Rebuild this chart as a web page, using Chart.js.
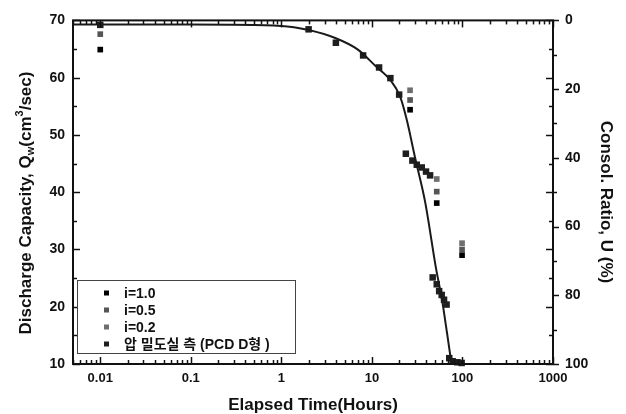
<!DOCTYPE html>
<html>
<head>
<meta charset="utf-8">
<script src="https://cdn.jsdelivr.net/npm/chart.js@4.4.1/dist/chart.umd.min.js"></script>
<style>
html, body { margin: 0; padding: 0; background: #fff; }
#wrap { width: 626px; height: 414px; }
</style>
</head>
<body>
<div id="wrap"><canvas id="chart" width="626" height="414"></canvas></div>
<script>
// tick labels
const xTickValues = [0.01, 0.1, 1, 10, 100, 1000];
const leftTicks = [10, 20, 30, 40, 50, 60, 70];
const rightTicks = [0, 20, 40, 60, 80, 100];

// discharge capacity for each gradient (left axis)
const iTimes = [0.01, 26.4, 52, 99];
const q10 = [64.9, 54.4, 38.1, 29.0];
const q05 = [67.6, 56.1, 40.1, 30.0];
const q02 = [69.2, 57.8, 42.3, 31.1];

// measured consolidation ratio (right axis, %)
const uTimes = [0.01, 2, 4, 8, 12, 16, 20, 23.7, 28, 31.3, 35.5, 39.6, 43.9, 46.9, 52, 55.3, 59, 62.6, 66.8, 71.5, 78, 88, 98];
const uMeasured = [1.3, 2.6, 6.5, 10.2, 13.7, 16.8, 21.6, 38.8, 40.8, 42.0, 42.8, 44.0, 45.1, 74.8, 76.8, 78.8, 79.9, 81.3, 82.7, 98.3, 99.2, 99.5, 99.7];

// fitted consolidation curve
const curveTimes = [0.005, 0.1, 1, 2, 4, 7, 11, 15.9, 20.5, 24.3, 30, 38.7, 51, 59.6, 67.6, 74.8, 76.5];
const curveU = [1.2, 1.2, 1.6, 2.8, 5.2, 8.5, 13.3, 17.3, 22.2, 29.0, 40.0, 52.8, 72.1, 81.5, 91.0, 98.8, 100];

const labels = ['i=1.0', 'i=0.5', 'i=0.2', '압 밀도실 측 (PCD D형 )'];
const colors = ['#000000', '#555555', '#6e6e6e', '#1e1e1e'];

const pts = (xs, ys) => xs.map((x, i) => ({ x: x, y: ys[i] }));

Chart.defaults.font.family = 'Arial, "Liberation Sans", "Noto Sans CJK KR", sans-serif';
Chart.defaults.color = '#111';

// frame, inward ticks, legend box and axis titles
const decor = {
    id: 'decor',
    afterDatasetsDraw(chart) {
        const { ctx, chartArea: a, scales } = chart;
        const x = scales.x, yL = scales.y, yR = scales.yR;
        ctx.save();
        ctx.strokeStyle = '#111';
        ctx.lineWidth = 1.5;
        const line = (x1, y1, x2, y2) => { ctx.beginPath(); ctx.moveTo(x1, y1); ctx.lineTo(x2, y2); ctx.stroke(); };

        const xMinor = [0.001, 0.01, 0.1, 1, 10, 100]
            .flatMap(d => [2, 3, 4, 5, 6, 7, 8, 9].map(m => m * d))
            .filter(v => v >= 0.005 && v <= 1000);
        xMinor.forEach(v => {
            const p = Math.round(x.getPixelForValue(v)) + 0.5;
            line(p, a.bottom, p, a.bottom - 4);
            line(p, a.top, p, a.top + 4);
        });
        xTickValues.forEach(v => {
            const p = Math.round(x.getPixelForValue(v)) + 0.5;
            line(p, a.bottom, p, a.bottom - 7);
            line(p, a.top, p, a.top + 7);
        });
        leftTicks.forEach((v, i) => {
            const p = Math.round(yL.getPixelForValue(v)) + 0.5;
            line(a.left, p, a.left + 7, p);
            line(a.right, p, a.right - 7, p);
            if (i < leftTicks.length - 1) {
                const q = Math.round(yL.getPixelForValue(v + 5)) + 0.5;
                line(a.left, q, a.left + 4, q);
                line(a.right, q, a.right - 4, q);
            }
        });
        rightTicks.forEach((v, i) => {
            const p = Math.round(yR.getPixelForValue(v)) + 0.5;
            line(a.right, p, a.right + 6, p);
            if (i < rightTicks.length - 1) {
                const q = Math.round(yR.getPixelForValue(v + 10)) + 0.5;
                line(a.right, q, a.right + 4, q);
            }
        });

        ctx.lineWidth = 2;
        ctx.strokeRect(a.left, a.top, a.right - a.left, a.bottom - a.top);

        // legend
        ctx.lineWidth = 1;
        ctx.strokeStyle = '#444';
        ctx.fillStyle = '#fff';
        ctx.fillRect(77.5, 280.5, 218, 73);
        ctx.strokeRect(77.5, 280.5, 218, 73);
        ctx.textBaseline = 'middle';
        ctx.textAlign = 'left';
        labels.forEach((t, i) => {
            const cy = 293 + i * 17;
            ctx.fillStyle = colors[i];
            ctx.fillRect(104, cy - 2.5, 5, 5);
            ctx.fillStyle = '#111';
            ctx.font = 'bold 14px Arial, "Liberation Sans", "Noto Sans CJK KR", sans-serif';
            ctx.fillText(t, 124, cy + 1);
        });

        // axis titles
        ctx.fillStyle = '#111';
        const big = 'bold 17px Arial, "Liberation Sans", sans-serif';
        const small = 'bold 11px Arial, "Liberation Sans", sans-serif';
        ctx.font = big;
        ctx.textAlign = 'center';
        ctx.fillText('Elapsed Time(Hours)', 313, 405);

        const parts = [
            ['Discharge Capacity, Q', big, 0], ['w', small, 5], ['(cm', big, 0],
            ['3', small, -6], ['/sec)', big, 0]
        ];
        ctx.textAlign = 'left';
        let w = 0;
        parts.forEach(p => { ctx.font = p[1]; w += ctx.measureText(p[0]).width; });
        ctx.save();
        ctx.translate(26, 203);
        ctx.rotate(-Math.PI / 2);
        let cx = -w / 2;
        parts.forEach(p => {
            ctx.font = p[1];
            ctx.fillText(p[0], cx, p[2]);
            cx += ctx.measureText(p[0]).width;
        });
        ctx.restore();

        ctx.save();
        ctx.translate(606, 202);
        ctx.rotate(Math.PI / 2);
        ctx.font = big;
        ctx.textAlign = 'center';
        ctx.fillText('Consol. Ratio, U (%)', 0, 0);
        ctx.restore();
        ctx.restore();
    }
};

new Chart(document.getElementById('chart').getContext('2d'), {
    data: {
        datasets: [{
            type: 'line',
            label: 'fit',
            data: pts(curveTimes, curveU),
            yAxisID: 'yR',
            borderColor: '#1a1a1a',
            borderWidth: 2,
            pointRadius: 0,
            cubicInterpolationMode: 'monotone',
            order: 0
        }, {
            type: 'scatter',
            label: labels[3],
            data: pts(uTimes, uMeasured),
            yAxisID: 'yR',
            backgroundColor: colors[3],
            pointStyle: 'rect',
            pointRadius: 4.6,
            borderWidth: 0,
            clip: false,
            order: 1
        }, {
            type: 'scatter',
            label: labels[0],
            data: pts(iTimes, q10),
            yAxisID: 'y',
            backgroundColor: colors[0],
            pointStyle: 'rect',
            pointRadius: 4,
            borderWidth: 0,
            clip: false,
            order: 2
        }, {
            type: 'scatter',
            label: labels[1],
            data: pts(iTimes, q05),
            yAxisID: 'y',
            backgroundColor: colors[1],
            pointStyle: 'rect',
            pointRadius: 4,
            borderWidth: 0,
            clip: false,
            order: 3
        }, {
            type: 'scatter',
            label: labels[2],
            data: pts(iTimes, q02),
            yAxisID: 'y',
            backgroundColor: colors[2],
            pointStyle: 'rect',
            pointRadius: 4,
            borderWidth: 0,
            clip: false,
            order: 4
        }]
    },
    options: {
        responsive: false,
        animation: false,
        layout: { padding: { top: 17, left: 0, right: 0, bottom: 0 } },
        plugins: {
            legend: { display: false },
            tooltip: { enabled: false }
        },
        scales: {
            x: {
                type: 'logarithmic',
                position: 'bottom',
                min: 0.005,
                max: 1000,
                afterBuildTicks: s => { s.ticks = xTickValues.map(v => ({ value: v })); },
                afterFit: s => { s.height = 50; },
                ticks: {
                    callback: v => String(v),
                    font: { size: 13, weight: 'bold' },
                    padding: 7,
                    maxRotation: 0,
                    autoSkip: false
                },
                grid: { display: false, drawTicks: false },
                border: { display: false }
            },
            y: {
                type: 'linear',
                position: 'left',
                min: 10,
                max: 70,
                afterBuildTicks: s => { s.ticks = leftTicks.map(v => ({ value: v })); },
                afterFit: s => { s.width = 73; },
                ticks: { font: { size: 14, weight: 'bold' }, padding: 8 },
                grid: { display: false, drawTicks: false },
                border: { display: false }
            },
            yR: {
                type: 'linear',
                position: 'right',
                min: 0,
                max: 100,
                reverse: true,
                afterBuildTicks: s => { s.ticks = rightTicks.map(v => ({ value: v })); },
                afterFit: s => { s.width = 73; },
                ticks: { font: { size: 14, weight: 'bold' }, padding: 12 },
                grid: { display: false, drawTicks: false },
                border: { display: false }
            }
        }
    },
    plugins: [decor]
});
</script>
</body>
</html>
